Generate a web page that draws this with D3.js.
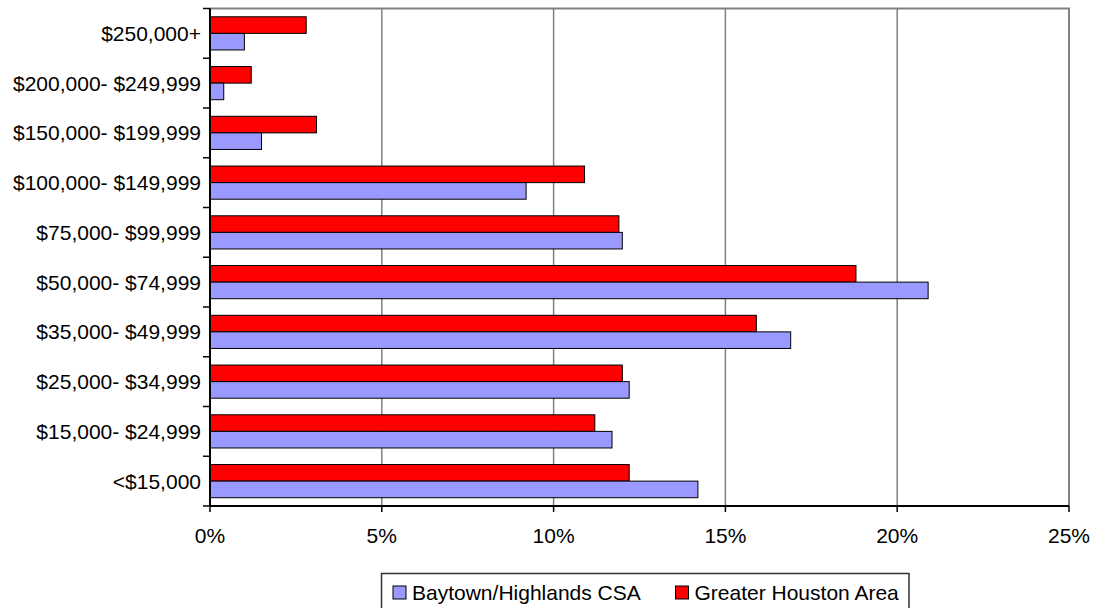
<!DOCTYPE html>
<html>
<head>
<meta charset="utf-8">
<script src="https://cdn.jsdelivr.net/npm/d3@7"></script>
<style>
  html, body { margin: 0; padding: 0; background: #fff; }
  svg { display: block; }
  text { font-family: "Liberation Sans", Arial, sans-serif; fill: #000; }
</style>
</head>
<body>
<svg id="chart" width="1099" height="608"></svg>
<script>
const categories = ["$250,000+", "$200,000- $249,999", "$150,000- $199,999", "$100,000- $149,999",
  "$75,000- $99,999", "$50,000- $74,999", "$35,000- $49,999", "$25,000- $34,999",
  "$15,000- $24,999", "<$15,000"];
const seriesNames = ["Greater Houston Area", "Baytown/Highlands CSA"];
const houston = [2.8, 1.2, 3.1, 10.9, 11.9, 18.8, 15.9, 12.0, 11.2, 12.2];
const baytown = [1.0, 0.4, 1.5, 9.2, 12.0, 20.9, 16.9, 12.2, 11.7, 14.2];
const xTicks = [0, 5, 10, 15, 20, 25];
const colors = { "Greater Houston Area": "#FF0000", "Baytown/Highlands CSA": "#9999FF" };

(function () {
const svg = d3.select("#chart");
const pLeft = 210, pRight = 1069, pTop = 8.5, pBottom = 506;
const fs = "21px";

const x = d3.scaleLinear().domain([0, 25]).range([pLeft, pRight]);
const y = d3.scaleBand().domain(categories).range([pTop, pBottom]).paddingInner(1/3).paddingOuter(1/6);
const ys = d3.scaleBand().domain(seriesNames).range([0, y.bandwidth()]);

// gridlines
svg.append("g").selectAll("line").data(xTicks.filter(t => t > 0 && t < 25)).join("line")
  .attr("x1", d => x(d)).attr("x2", d => x(d)).attr("y1", pTop).attr("y2", pBottom)
  .attr("stroke", "#808080").attr("stroke-width", 1.5);

// plot border top/right
svg.append("path")
  .attr("d", `M${pLeft},${pTop}H${pRight}V${pBottom}`)
  .attr("fill", "none").attr("stroke", "#808080").attr("stroke-width", 2);

// bars
const data = categories.map((c, i) => ({ c, vals: [
  { s: seriesNames[0], v: houston[i] },
  { s: seriesNames[1], v: baytown[i] }
]}));
const g = svg.append("g").selectAll("g").data(data).join("g")
  .attr("transform", d => `translate(0,${y(d.c)})`);
g.selectAll("rect").data(d => d.vals).join("rect")
  .attr("x", x(0)).attr("y", d => ys(d.s))
  .attr("width", d => x(d.v) - x(0)).attr("height", ys.bandwidth())
  .attr("fill", d => colors[d.s]).attr("stroke", "#000").attr("stroke-width", 1);

// y axis
const yAxis = svg.append("g").attr("transform", `translate(${pLeft},0)`);
yAxis.append("line").attr("x1", 0).attr("x2", 0).attr("y1", pTop).attr("y2", pBottom)
  .attr("stroke", "#000").attr("stroke-width", 2);
const step = y.step();
const boundaries = d3.range(categories.length + 1).map(i => pTop + i * step);
yAxis.selectAll("line.tick").data(boundaries).join("line").attr("class", "tick")
  .attr("x1", -7).attr("x2", 0).attr("y1", d => d).attr("y2", d => d)
  .attr("stroke", "#000").attr("stroke-width", 1.5);
yAxis.selectAll("text").data(categories).join("text")
  .attr("x", -9).attr("y", d => y(d) + y.bandwidth() / 2)
  .attr("dy", "0.36em").attr("text-anchor", "end")
  .style("font-size", fs).text(d => d);

// x axis
const xAxis = svg.append("g").attr("transform", `translate(0,${pBottom})`);
xAxis.append("line").attr("x1", pLeft).attr("x2", pRight).attr("y1", 0).attr("y2", 0)
  .attr("stroke", "#000").attr("stroke-width", 2);
xAxis.selectAll("line.tick").data(xTicks).join("line").attr("class", "tick")
  .attr("x1", d => x(d)).attr("x2", d => x(d)).attr("y1", 0).attr("y2", 6)
  .attr("stroke", "#000").attr("stroke-width", 1.5);
xAxis.selectAll("text").data(xTicks).join("text")
  .attr("x", d => x(d)).attr("y", 36.5).attr("text-anchor", "middle")
  .style("font-size", fs).text(d => d + "%");

// legend
const legend = svg.append("g");
legend.append("rect").attr("x", 381.5).attr("y", 573.5).attr("width", 527.5).attr("height", 36)
  .attr("fill", "#fff").attr("stroke", "#333").attr("stroke-width", 1.5);
const legendItems = [
  { s: seriesNames[1], x: 393 },
  { s: seriesNames[0], x: 675.5 }
];
const li = legend.selectAll("g").data(legendItems).join("g")
  .attr("transform", d => `translate(${d.x},586)`);
li.append("rect").attr("width", 13).attr("height", 13)
  .attr("fill", d => colors[d.s]).attr("stroke", "#000").attr("stroke-width", 1);
li.append("text").attr("x", 19).attr("y", 14).style("font-size", fs).text(d => d.s);
})();
</script>
</body>
</html>
